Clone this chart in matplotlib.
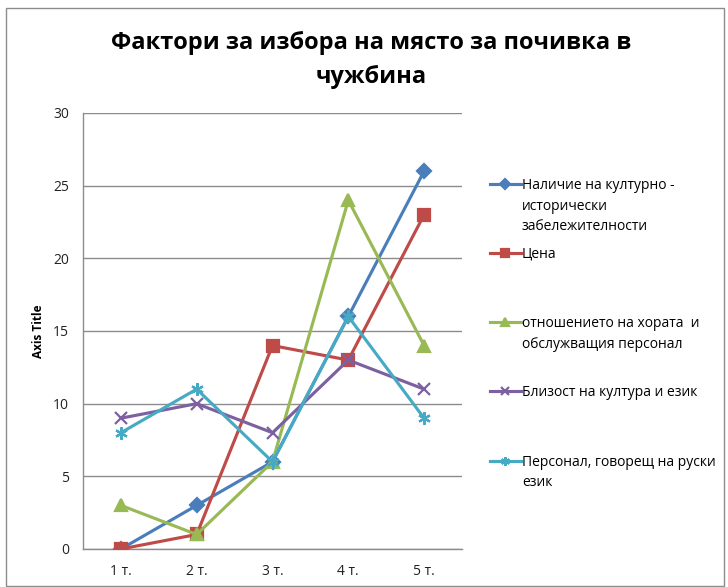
import matplotlib
matplotlib.use("Agg")
import matplotlib.pyplot as plt
from matplotlib.patches import Rectangle

plt.rcParams['font.family'] = ['Open Sans', 'DejaVu Sans']

categories = ["1 т.", "2 т.", "3 т.", "4 т.", "5 т."]
series_names = [
    "Наличие на културно -\nисторически\nзабележителности",
    "Цена",
    "отношението на хората  и\nобслужващия персонал",
    "Близост на култура и език",
    "Персонал, говорещ на руски\nезик",
]
cultural = [0, 3, 6, 16, 26]
price = [0, 1, 14, 13, 23]
attitude = [3, 1, 6, 24, 14]
proximity = [9, 10, 8, 13, 11]
russian = [8, 11, 6, 16, 9]
y_ticks = [0, 5, 10, 15, 20, 25, 30]

values = [cultural, price, attitude, proximity, russian]
colors = ["#4A7EBB", "#BE4B48", "#98B954", "#7D60A0", "#46AAC5"]
markers = ["D", "s", "^", "x", (6, 2, 0)]
msizes = [7, 9, 9, 8, 9]

W, H = 728, 587
fig = plt.figure(figsize=(W / 100, H / 100), dpi=100)
ax = fig.add_axes([83 / W, 1 - 549 / H, (462 - 83) / W, (549 - 113) / H])

x = list(range(len(categories)))
handles = []
for vals, c, m, ms in zip(values, colors, markers, msizes):
    (ln,) = ax.plot(x, vals, color=c, lw=2.25, marker=m, markersize=ms,
                    markerfacecolor=c, markeredgecolor=c, markeredgewidth=1.6,
                    zorder=3)
    handles.append(ln)

ax.set_xlim(-0.5, len(categories) - 0.5)
ax.set_ylim(0, 30)
ax.set_yticks(y_ticks)
ax.set_xticks(x)
ax.set_xticklabels(categories)
ax.yaxis.grid(True, color="#8C8C8C", lw=1)
ax.set_axisbelow(True)
for s in ["top", "right"]:
    ax.spines[s].set_visible(False)
for s in ["left", "bottom"]:
    ax.spines[s].set_color("#8C8C8C")
    ax.spines[s].set_linewidth(1)
ax.tick_params(axis="both", length=0, labelsize=10, colors="#222222")
ax.tick_params(axis="y", pad=10)
ax.tick_params(axis="x", pad=11)

ax.set_ylabel("Axis Title", fontsize=8.5, fontweight="bold")
ax.yaxis.set_label_coords(-0.10, 0.5)

fig.text(371 / W, 1 - 60 / H,
         "Фактори за избора на място за почивка в\nчужбина",
         ha="center", va="center", fontsize=17, fontweight="bold",
         linespacing=1.6)

# legend entries on a uniform grid
entry_tops = [178, 247, 316, 385, 455]
for h, lab, top in zip(handles, series_names, entry_tops):
    leg = fig.legend([h], [lab], loc="upper left",
                     bbox_to_anchor=(490 / W, 1 - top / H),
                     frameon=False, fontsize=10, borderpad=0,
                     borderaxespad=0, handlelength=2.2, handletextpad=0.1,
                     handleheight=1.1, markerscale=0.7)
    for t in leg.get_texts():
        t.set_linespacing(1.5)
    for col in leg._legend_handle_box.get_children():
        for row in col.get_children():
            row.align = "top"

fig.patches.append(Rectangle((6 / W, 1 - 586 / H), (724 - 6) / W, (586 - 8) / H,
                             transform=fig.transFigure, fill=False,
                             edgecolor="#8C8C8C", lw=1))

fig.savefig("out.png", dpi=100)
